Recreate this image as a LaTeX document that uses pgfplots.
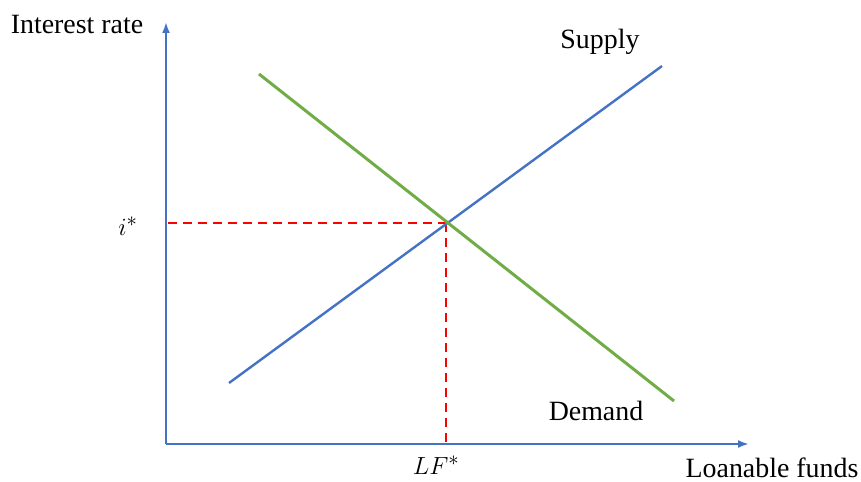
\documentclass[border=0pt]{standalone}
\usepackage{fontspec}
\setmainfont{Liberation Serif}
\usepackage{pgfplots}
\pgfplotsset{compat=1.18}
\usetikzlibrary{arrows.meta}
\definecolor{supplyblue}{HTML}{4472C4}
\definecolor{demandgreen}{HTML}{70AD47}
\begin{document}
\begin{tikzpicture}[lbl/.style={font=\fontsize{28}{31}\selectfont, inner sep=0pt},
  mlbl/.style={font=\fontsize{31}{34}\selectfont, inner sep=0pt}]
\begin{axis}[
  width=861bp, height=482bp, scale only axis,
  xmin=0, xmax=861, ymin=0, ymax=482, y dir=reverse,
  hide axis, clip=false,
]
\path (axis cs:0,0) rectangle (axis cs:861,482);
% axes
\addplot[supplyblue, line width=2.5bp, -{Latex[length=11bp,width=8bp]}] coordinates {(166,444) (166,22)};
\addplot[supplyblue, line width=2.5bp, -{Latex[length=11bp,width=8bp]}] coordinates {(166,444) (749,444)};
% dashed
\addplot[red, line width=1.5bp, dash pattern=on 9bp off 6bp] coordinates {(168,223) (446,223)};
\addplot[red, line width=1.5bp, dash pattern=on 9bp off 6bp] coordinates {(446,223) (446,443)};
% supply
\addplot[supplyblue, line width=2.4bp] coordinates {(229,383) (662,66)};
% demand
\addplot[demandgreen, line width=3bp] coordinates {(259,74) (674,401)};
% labels
\node[lbl] at (axis cs:77,25) {Interest rate};
\node[lbl] at (axis cs:600,42) {Supply};
\node[lbl] at (axis cs:596,411) {Demand};
\node[mlbl] at (axis cs:128,226) {$i^{*}$};
\node[mlbl] at (axis cs:436,465) {$LF^{*}$};
\node[lbl] at (axis cs:772,468) {Loanable funds};
\end{axis}
\end{tikzpicture}
\end{document}
